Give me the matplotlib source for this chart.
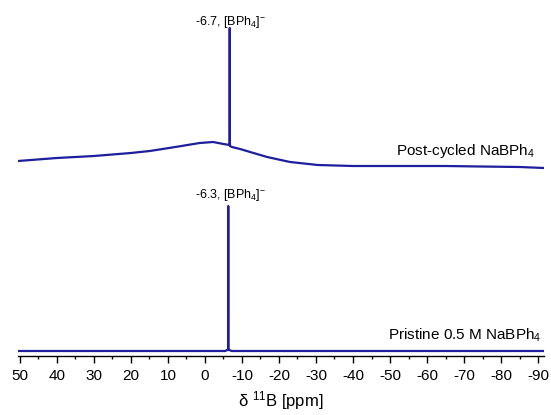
import numpy as np
import matplotlib
matplotlib.use("Agg")
import matplotlib.pyplot as plt

plt.rcParams['font.family'] = ['Liberation Sans', 'DejaVu Sans']
plt.rcParams['mathtext.default'] = 'regular'
plt.rcParams['axes.unicode_minus'] = False

# --- data (ppm, intensity in arbitrary units) ---
pristine_ppm = [50.5, 20.0, -5.5, -6.0, -6.25, -6.3, -6.35, -6.6, -7.2, -30.0, -60.0, -91.6]
pristine_int = [5, 5, 5, 6, 6, 150, 6, 6, 5, 5, 5, 5]

post_ppm = [50.5, 40.0, 30.0, 20.0, 14.9, 8.0, 1.4, -2.2, -5.0, -6.65, -6.7,
            -6.75, -7.3, -9.5, -12.2, -16.8, -23.0, -30.5, -40.0, -52.7,
            -65.0, -74.3, -85.0, -91.6]
post_int = [195, 198, 200, 203, 205, 209, 213, 214, 212, 211, 328,
            210, 209, 207, 204, 199, 194, 191, 190, 190,
            190, 189.5, 189, 188]

labels = ["Post-cycled NaBPh$_4$", "Pristine 0.5 M NaBPh$_4$"]
peak_labels = ["-6.7, [BPh$_4$]$^{-}$", "-6.3, [BPh$_4$]$^{-}$"]

color = '#1e1e9e'

fig = plt.figure(figsize=(5.51, 4.15), dpi=100)
ax = fig.add_axes([18/551, 59/415, 526/551, 336/415])

ax.plot(post_ppm, post_int, color=color, lw=1.6)
ax.plot(pristine_ppm, pristine_int, color=color, lw=1.6)

ax.set_xlim(50.5, -91.6)
ax.set_ylim(0, 336)

for s in ['left', 'right', 'top']:
    ax.spines[s].set_visible(False)
ax.spines['bottom'].set_linewidth(1.0)
ax.set_yticks([])
ax.set_xticks(np.arange(50, -91, -10))
ax.set_xticks(np.arange(45, -90, -10), minor=True)
ax.tick_params(axis='x', which='major', direction='out', length=5, width=1,
               labelsize=11, pad=4)
ax.tick_params(axis='x', which='minor', direction='out', length=2.5, width=1)
ax.set_xlabel('δ $^{11}$B [ppm]', fontsize=12, labelpad=5)

# annotations
ax.text(2.7, 334, peak_labels[0], fontsize=9, ha='left', va='center')
ax.text(2.7, 161, peak_labels[1], fontsize=9, ha='left', va='center')
ax.text(-89.2, 205, labels[0], fontsize=11, ha='right', va='center')
ax.text(-90.8, 21, labels[1], fontsize=11, ha='right', va='center')

plt.savefig('out.png', dpi=100)
